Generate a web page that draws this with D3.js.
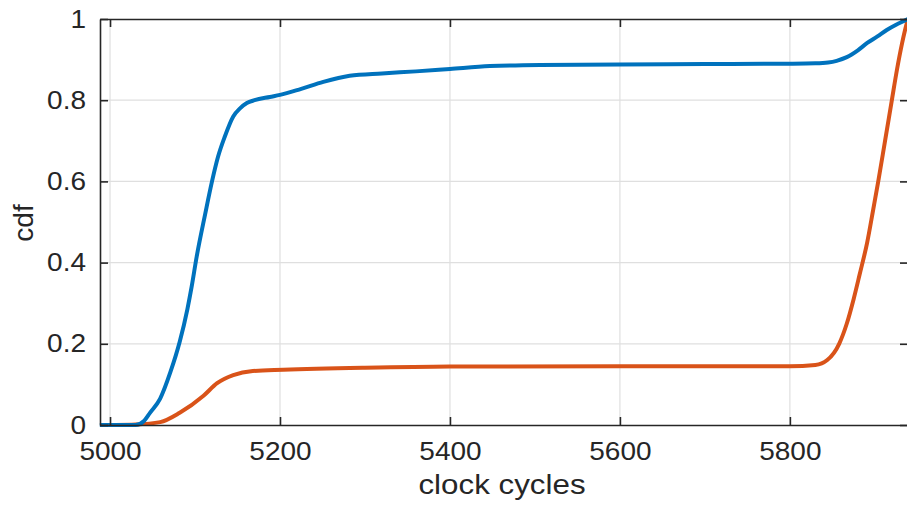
<!DOCTYPE html>
<html>
<head>
<meta charset="utf-8">
<script src="https://cdn.jsdelivr.net/npm/d3@7"></script>
<style>
	body { margin: 0; background: #fff; }
	svg { display: block; font-family: "Liberation Sans", Arial, sans-serif; }
</style>
</head>
<body>
<svg id="chart" width="907" height="506"></svg>
<script>
// values
const blue_x = [4988, 5030, 5040, 5047, 5059, 5071, 5082, 5091, 5096, 5102, 5112, 5120, 5127, 5135, 5145, 5153, 5161,
	5170, 5188, 5200, 5225, 5251, 5282, 5320, 5360, 5400, 5447, 5506, 5600, 5700, 5800, 5830, 5845, 5855, 5867, 5880,
	5891, 5903, 5914, 5925, 5935, 5939];
const blue_y = [0, 0, 0.01, 0.03, 0.065, 0.13, 0.205, 0.285, 0.34, 0.415, 0.52, 0.60, 0.66, 0.71, 0.76, 0.78, 0.793,
	0.80, 0.808, 0.813, 0.828, 0.845, 0.86, 0.866, 0.871, 0.877, 0.884, 0.887, 0.888, 0.889, 0.890, 0.891, 0.893, 0.897,
	0.906, 0.923, 0.941, 0.957, 0.973, 0.986, 0.996, 1.0];

const orange_x = [5006, 5030, 5059, 5082, 5110, 5126, 5145, 5168, 5204, 5300, 5400, 5600, 5800, 5830, 5844, 5858, 5867,
	5875, 5882, 5891, 5898, 5904, 5912, 5920, 5926, 5932, 5937, 5939];
const orange_y = [0, 0.001, 0.007, 0.03, 0.072, 0.103, 0.123, 0.133, 0.136, 0.141, 0.144, 0.145, 0.145, 0.148, 0.16,
	0.2, 0.25, 0.31, 0.37, 0.45, 0.53, 0.60, 0.70, 0.80, 0.875, 0.94, 0.985, 1.0];

const x_ticks = [5000, 5200, 5400, 5600, 5800];
const y_ticks = [0, 0.2, 0.4, 0.6, 0.8, 1];

const X_LABEL = 'clock cycles';
const Y_LABEL = 'cdf';

const COLOR_BLUE = '#0072BD';
const COLOR_ORANGE = '#D95319';
const COLOR_AXIS = '#262626';
const COLOR_GRID = '#dfdfdf';

const plot = {left: 100, right: 908, top: 19, bottom: 425};
const TICK_LEN = 8;
const TICK_FONT = 25;
const LABEL_FONT = 28;
const TEXT_STRETCH = 1.12;

const svg = d3.select('#chart');

const x = d3.scaleLinear().domain([4988.2, 5939]).range([plot.left, plot.right]);
const y = d3.scaleLinear().domain([0, 1]).range([plot.bottom, plot.top]);

// grid
const grid = svg.append('g').attr('stroke', COLOR_GRID).attr('stroke-width', 1.2);

grid.selectAll('line.gx')
	.data(x_ticks)
	.join('line')
	.attr('class', 'gx')
	.attr('x1', d => x(d)).attr('x2', d => x(d))
	.attr('y1', plot.top).attr('y2', plot.bottom);

grid.selectAll('line.gy')
	.data(y_ticks.slice(1, -1))
	.join('line')
	.attr('class', 'gy')
	.attr('x1', plot.left).attr('x2', plot.right)
	.attr('y1', d => y(d)).attr('y2', d => y(d));

// lines
svg.append('clipPath')
	.attr('id', 'plot-clip')
	.append('rect')
	.attr('x', plot.left - 3).attr('y', plot.top - 3)
	.attr('width', plot.right - plot.left + 6).attr('height', plot.bottom - plot.top + 6);

const line = d3.line()
	.x(d => x(d[0]))
	.y(d => y(d[1]))
	.curve(d3.curveMonotoneX);

const series = [
	{points: d3.zip(orange_x, orange_y), color: COLOR_ORANGE},
	{points: d3.zip(blue_x, blue_y), color: COLOR_BLUE}
];

svg.append('g')
	.attr('clip-path', 'url(#plot-clip)')
	.selectAll('path')
	.data(series)
	.join('path')
	.attr('d', d => line(d.points))
	.attr('fill', 'none')
	.attr('stroke', d => d.color)
	.attr('stroke-width', 4)
	.attr('stroke-linejoin', 'round');

// axes (box with inward ticks)
const x_axis_bottom = d3.axisBottom(x).tickValues(x_ticks).tickSizeInner(-TICK_LEN).tickSizeOuter(0).tickPadding(17)
	.tickFormat(d => String(d));
const x_axis_top = d3.axisTop(x).tickValues(x_ticks).tickSizeInner(-TICK_LEN).tickSizeOuter(0).tickFormat('');
const y_axis_left = d3.axisLeft(y).tickValues(y_ticks).tickSizeInner(-TICK_LEN).tickSizeOuter(0).tickPadding(14)
	.tickFormat(d => d === 0 || d === 1 ? String(d) : d3.format('.1f')(d));
const y_axis_right = d3.axisRight(y).tickValues(y_ticks).tickSizeInner(-TICK_LEN).tickSizeOuter(0).tickFormat('');

const styleAxis = g => {
	g.select('.domain').attr('stroke', COLOR_AXIS).attr('stroke-width', 1.6);
	g.selectAll('.tick line').attr('stroke', COLOR_AXIS).attr('stroke-width', 1.6);
	g.selectAll('.tick text')
		.attr('fill', COLOR_AXIS)
		.attr('font-size', TICK_FONT)
		.attr('font-family', '"Liberation Sans", Arial, sans-serif');
};

// the reference text is a little wider than the font, stretch it around its anchor
const stretchX = sel => sel.each(function() {
	const t = d3.select(this);
	const tx = +t.attr('x') || 0;
	t.attr('transform', `translate(${tx},0) scale(${TEXT_STRETCH},1) translate(${-tx},0)`);
});

svg.append('g').attr('transform', `translate(0,${plot.bottom})`).call(x_axis_bottom).call(styleAxis)
	.selectAll('.tick text').call(stretchX);
svg.append('g').attr('transform', `translate(0,${plot.top})`).call(x_axis_top).call(styleAxis);
svg.append('g').attr('transform', `translate(${plot.left},0)`).call(y_axis_left).call(styleAxis)
	.selectAll('.tick text').call(stretchX);
svg.append('g').attr('transform', `translate(${plot.right},0)`).call(y_axis_right).call(styleAxis);

// labels
const x_label_cx = 502;
svg.append('text')
	.attr('transform', `translate(${x_label_cx},494) scale(${TEXT_STRETCH},1)`)
	.attr('text-anchor', 'middle')
	.attr('fill', COLOR_AXIS)
	.attr('font-size', LABEL_FONT)
	.text(X_LABEL);

svg.append('text')
	.attr('transform', 'translate(33,223) rotate(-90)')
	.attr('text-anchor', 'middle')
	.attr('fill', COLOR_AXIS)
	.attr('font-size', LABEL_FONT)
	.text(Y_LABEL);
</script>
</body>
</html>
